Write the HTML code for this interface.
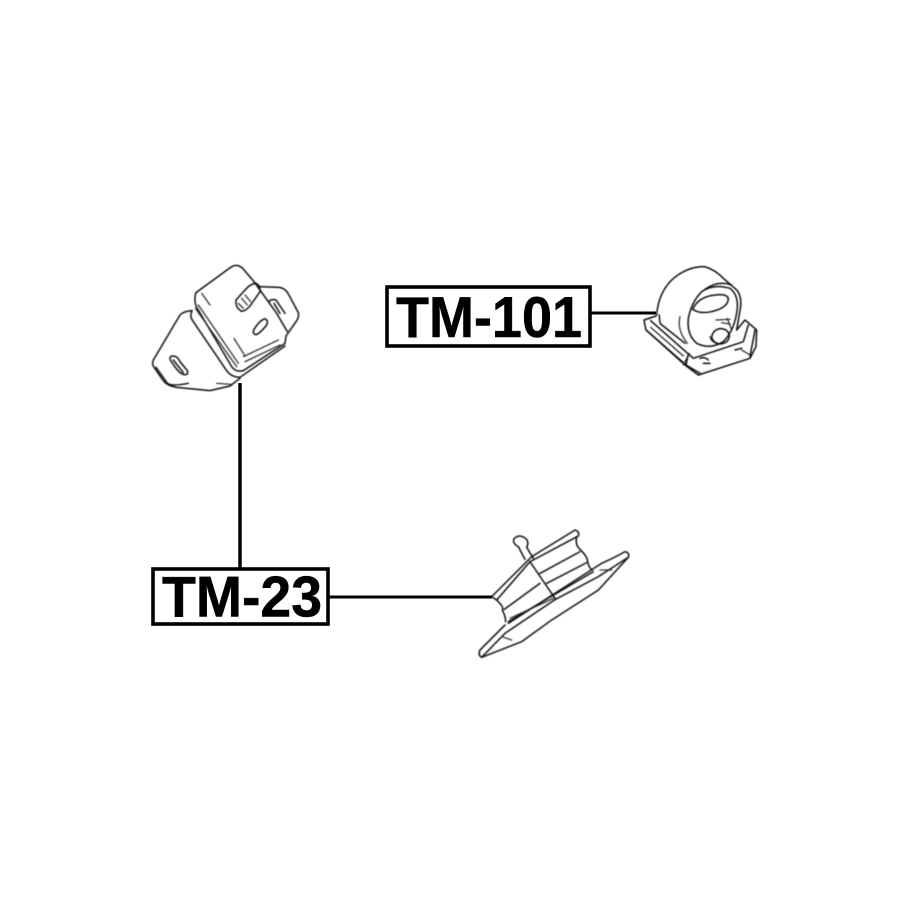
<!DOCTYPE html>
<html>
<head>
<meta charset="utf-8">
<style>
html,body{margin:0;padding:0;background:#fff;}
svg{display:block;}
text{font-family:"Liberation Sans",Arial,sans-serif;font-weight:bold;fill:#000;stroke:#000;stroke-width:.5;}
.d{fill:none;stroke:#111;stroke-width:4.5;stroke-linecap:round;stroke-linejoin:round;}
.t{fill:none;stroke:#222;stroke-width:3.6;stroke-linecap:round;stroke-linejoin:round;}
</style>
</head>
<body>
<svg width="915" height="915" viewBox="0 0 915 915" xmlns="http://www.w3.org/2000/svg">
<defs>
<filter id="b" x="-5%" y="-5%" width="110%" height="110%"><feGaussianBlur stdDeviation="1.2"/></filter>
<filter id="s" x="-5%" y="-5%" width="110%" height="110%"><feGaussianBlur stdDeviation=".35"/></filter>
</defs>
<rect width="915" height="915" fill="#fff"/>

<!-- connectors -->
<path d="M240 383V568" stroke="#000" stroke-width="3.5" fill="none"/>
<path d="M329 597H492" stroke="#000" stroke-width="3" fill="none"/>
<path d="M591 313H656" stroke="#000" stroke-width="3" fill="none"/>

<!-- label boxes -->
<g filter="url(#s)">
<rect x="387" y="287" width="203" height="59" fill="#fff" stroke="#000" stroke-width="3.6"/>
<text transform="translate(396 337) scale(1 1.06)" font-size="54" textLength="186" lengthAdjust="spacingAndGlyphs">TM-101</text>
<rect x="153" y="569" width="175" height="55" fill="#fff" stroke="#000" stroke-width="3.6"/>
<text transform="translate(162 616.5) scale(1 1.05)" font-size="55" textLength="160" lengthAdjust="spacingAndGlyphs">TM-23</text>
</g>

<!-- part top-left -->
<g transform="translate(130 250) scale(.3333)" filter="url(#b)">
<path class="d" d="M198 128L305 50Q322 40 338 55L372 95"/>
<path class="d" d="M388 110L448 112Q464 114 474 130L505 188Q508 202 498 215L468 258"/>
<path class="d" d="M198 128Q190 150 200 172L305 350Q318 368 340 362L465 280L468 258"/>
<path class="d" d="M372 95L440 190L472 245"/>
<path class="d" d="M186 182Q178 198 188 212L290 362Q305 382 330 382L465 288"/>
<path class="d" d="M186 182Q160 184 150 195L76 320Q62 338 72 352L100 392Q112 408 140 412L240 422L300 408L330 385"/>
<path class="d" d="M78 352L112 400Q125 410 175 400"/>
<path class="t" d="M260 400L302 403"/>
<path class="t" d="M205 165L325 340M215 130L240 165M196 175L320 350M312 265L345 318"/>
<path class="t" d="M340 320L445 270M345 335L450 285"/>
<!-- stud -->
<path class="d" d="M345 120L318 150Q315 172 335 184Q350 182 362 165L390 125Q392 108 378 100Q362 100 345 120Z"/>
<path class="t" d="M335 145L352 165M345 135L362 155M325 160L340 175"/>
<!-- slots -->
<path class="d" d="M372 238Q366 252 378 254Q390 250 410 225Q416 210 404 206Q388 212 372 238Z"/>
<path class="d" d="M122 332Q115 318 130 318Q142 318 150 335L172 362Q176 376 162 374Q148 370 136 352Z"/>
<path class="d" d="M130 330L160 368"/>
<path class="d" d="M418 156Q420 146 438 150L465 190M432 160L450 190"/>
</g>

<!-- part top-right -->
<g transform="translate(630 250) scale(.3333)" filter="url(#b)">
<path class="d" d="M80 195Q85 130 125 90Q170 50 220 50Q250 55 280 85L318 118Q335 135 332 170L320 240"/>
<path class="d" d="M88 195Q88 215 92 222L165 280"/>
<!-- inner hole -->
<path class="d" d="M215 125Q250 100 300 115Q325 135 322 175Q315 240 280 275Q240 300 200 280Q170 255 175 205Q185 155 215 125Z"/>
<path class="d" d="M225 118Q265 90 305 105"/>
<path class="d" d="M188 178Q205 140 255 135Q290 130 295 145Q295 170 255 182Q215 195 188 178Z"/>
<path class="t" d="M150 200Q140 240 172 280M240 260Q245 280 270 282"/>
<!-- bolt -->
<path class="d" d="M245 262Q248 240 270 236Q295 236 298 258Q296 280 270 282Q250 280 245 262Z"/>
<path class="t" d="M258 210L300 208M275 218L300 222M292 205L305 240"/>
<!-- bracket -->
<path class="d" d="M42 210L78 198M42 210L48 240L168 345L175 312L62 212"/>
<path class="d" d="M48 240L165 345L205 375L360 325L378 290L380 240L345 210L320 240"/>
<path class="d" d="M168 345L210 370M175 312L190 325L340 275L355 225M375 240L360 320"/>
<path class="t" d="M62 232L160 318M178 310L160 345M335 300L360 315"/>
<path class="d" d="M210 325Q225 320 235 330M220 340L240 340M315 300L335 295"/>
</g>

<!-- part bottom -->
<g transform="translate(465 520) scale(.3333)" filter="url(#b)">
<path class="d" d="M80 230L200 110L330 30Q345 35 340 48L195 125L95 240Z"/>
<path class="d" d="M95 240Q118 262 112 270Q122 290 122 305"/>
<path class="d" d="M335 50Q330 75 345 88Q368 110 368 125Q372 145 382 150"/>
<path class="d" d="M118 268L225 190M225 160L345 95M245 190L365 128M130 305L385 155"/>
<path class="d" d="M130 310L410 130Q450 112 480 95Q495 98 490 112L400 170L268 240L120 340L50 412Q38 405 45 390Q80 355 120 315"/>
<path class="d" d="M50 412L170 365L260 300L400 210L490 112"/>
<path class="t" d="M135 295L265 235M110 350L140 360M405 150L440 150"/>
<path class="d" d="M195 125L270 235"/>
<path class="d" d="M180 118L160 80Q140 68 148 55Q165 40 185 58Q192 70 185 82L205 115"/>
</g>
</svg>
</body>
</html>
